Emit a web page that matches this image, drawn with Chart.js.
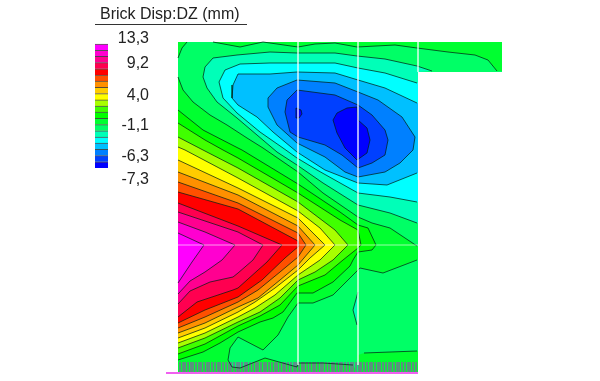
<!DOCTYPE html>
<html>
<head>
<meta charset="utf-8">
<title>Brick Disp:DZ</title>
<script src="https://cdn.jsdelivr.net/npm/chart.js@4/dist/chart.umd.min.js"></script>
<style>
  html, body { margin: 0; padding: 0; background: #fff; }
  body { width: 600px; height: 381px; position: relative; overflow: hidden; font-family: "Liberation Sans", Arial, sans-serif; }
  #plot { position: absolute; left: 0; top: 0; filter: blur(0.4px); }
  #scale { position: absolute; left: 95px; top: 30px; }
  #title { position: absolute; left: 100px; top: 4px; font-size: 16px; line-height: 20px; color: #222; white-space: nowrap; }
  #rule { position: absolute; left: 95px; top: 24px; width: 152px; height: 1px; background: #333; }
</style>
</head>
<body>
<canvas id="plot" width="600" height="381"></canvas>
<canvas id="scale" width="54" height="160"></canvas>
<div id="title">Brick Disp:DZ (mm)</div>
<div id="rule"></div>
<script>
// band colours, lowest displacement first
const bandColors = ["#0000ff", "#0040ff", "#0080ff", "#00c0ff", "#00ffff", "#00ffb8", "#00ff66", "#00ff30", "#00ff00", "#40ff00",
  "#a8ff00", "#ffff00", "#ffcc00", "#ff9000", "#ff5000", "#ff0000", "#ff0050", "#ff0090", "#ff00d0", "#ff00ff"];
const tickLabels = ["13,3", "9,2", "4,0", "-1,1", "-6,3", "-7,3"];
const tickSlots = [20.8, 16.8, 11.6, 6.8, 1.77, -1.94];

// outline of the brick wall
const outline = [[178,42],[502,42],[502,72],[418,72],[418,373],[178,373]];

// contour lines, cA_B separates band A from band B
const c0_1 = [[333,120],[337,113],[347,108],[357,107],[358,120],[367,128],[370,140],[367,153],[357,160],[345,148],[337,133],[333,120]];
const c0_1dot = [[296,108],[301,110],[302,114],[299,118],[296,118],[296,108]];
const c1_2 = [[358,105],[372,115],[385,130],[388,140],[385,155],[372,163],[358,168],[342,155],[325,145],[298,137],[290,132],[285,112],[287,100],[297,90],[335,95],[358,105]];
const c2_3 = [[358,92],[378,100],[402,117],[415,137],[413,150],[400,163],[385,172],[358,177],[345,172],[325,157],[297,143],[277,125],[268,107],[268,98],[277,88],[297,80],[335,83],[358,92]];
const c3_4 = [[417,103],[385,88],[358,80],[335,73],[297,72],[270,74],[238,74],[233,85],[232,98],[238,105],[257,117],[273,132],[297,152],[325,170],[358,183],[387,185],[417,173]];
const c4_5 = [[417,83],[385,73],[358,68],[335,63],[297,63],[270,63],[240,64],[225,70],[219,82],[223,98],[237,113],[260,132],[283,148],[297,158],[317,170],[358,193],[390,197],[417,202]];
const c5_6 = [[432,71],[417,66],[385,59],[357,56],[335,53],[297,53],[270,52],[237,55],[213,58],[205,67],[203,77],[207,88],[217,102],[237,118],[257,135],[277,152],[297,165],[323,183],[358,205],[390,213],[417,223]];
const c5_6lens = [[358,292],[353,310],[357,325]];
const c6_7a = [[178,77],[183,90],[193,102],[210,115],[227,125],[247,138],[263,148],[298,172],[323,193],[358,217],[372,223],[390,228],[417,246]];
const c6_7b = [[417,260],[383,273],[360,268],[333,295],[313,303],[298,303],[288,317],[278,335],[263,350],[238,337],[230,348],[228,360],[232,367],[240,368],[265,358],[297,367],[298,363],[323,363],[353,365]];
const c6_7corner = [[187,42],[182,48],[178,58]];
const c6_7top = [[213,42],[240,47],[263,42],[298,47],[315,44],[335,43],[357,47],[395,45],[417,48],[448,52],[475,55],[488,60],[497,71]];
const c6_7foot = [[364,353],[417,351]];
const c7_8 = [[178,110],[203,130],[238,148],[242,150],[298,184],[340,212],[358,225],[368,228],[376,245],[372,250],[358,252],[353,260],[350,266],[333,282],[313,293],[297,293],[283,312],[273,318],[260,322],[238,332],[220,343],[203,352],[178,360]];
const c8_9 = [[178,123],[205,140],[223,150],[238,158],[298,193],[340,220],[358,230],[361,245],[358,248],[343,260],[325,275],[298,286],[280,305],[260,316],[238,326],[205,344],[178,354]];
const c9_10 = [[178,137],[203,150],[238,168],[298,202],[335,230],[348,245],[333,260],[315,272],[298,280],[280,298],[260,312],[238,322],[205,338],[178,348]];
const c10_11 = [[178,147],[185,150],[238,178],[298,211],[320,228],[335,245],[320,260],[298,275],[275,295],[255,308],[238,317],[205,333],[178,343]];
const c11_12 = [[178,160],[238,188],[298,218],[325,245],[310,258],[298,270],[275,288],[255,302],[238,312],[205,328],[178,338]];
const c12_13 = [[178,172],[238,195],[298,226],[315,245],[298,265],[280,280],[258,298],[238,307],[205,323],[178,333]];
const c13_14 = [[178,182],[238,203],[298,233],[306,245],[298,257],[280,272],[258,290],[238,302],[205,317],[178,328]];
const c14_15 = [[178,192],[238,209],[298,241],[299,246],[285,258],[262,280],[238,297],[205,310],[178,323]];
const c15_16 = [[178,203],[238,226],[282,245],[267,262],[238,288],[233,290],[197,302],[178,317]];
const c16_17 = [[178,212],[238,232],[263,245],[253,260],[238,273],[233,277],[210,282],[190,291],[178,304]];
const c17_18 = [[178,222],[205,232],[235,245],[222,260],[205,272],[190,281],[178,294]];
const c18_19 = [[178,233],[204,245],[192,262],[178,283]];

// mesh lines and the supports along the foot of the wall
const meshLines = [[[298,42],[298,365]], [[358,42],[358,365]], [[418,42],[418,72]], [[178,245],[418,245]]];
const baseLine = [[166,373],[418,373]];
const supportX = [180,183,185,188,191,193,196,199,201,204,207,209,212,215,218,220,223,226,229,231,234,237,239,242,245,247,250,253,
  256,258,261,264,266,269,272,275,277,280,283,285,288,291,294,296,299,302,304,307,310,313,315,318,321,323,326,329,332,334,337,340,
  342,345,348,351,353,356,359,361,364,367,370,372,375,378,380,383,386,389,391,394,397,399,402,405,408,410,413,416];

const toPoints = (list) => list.map((p) => ({ x: p[0], y: p[1] }));

const datasets = [];

function addFill(points, band) {
  datasets.push({
    data: toPoints(points),
    showLine: true,
    fill: "shape",
    backgroundColor: bandColors[band],
    borderWidth: 0,
    borderColor: "transparent",
    pointRadius: 0
  });
}

function addLine(points, color, width) {
  datasets.push({
    data: toPoints(points),
    showLine: true,
    fill: false,
    borderColor: color,
    borderWidth: width,
    pointRadius: 0
  });
}

// green base, then higher and lower bands painted inwards
addFill(outline, 6);
addFill([...c6_7a, [418,246], [418,260], ...c6_7b, [358,373], [178,373]], 7);
addFill([...c6_7corner, [178,42]], 7);
addFill([...c6_7top, [502,71], [502,42]], 7);
addFill([...c6_7foot, [418,351], [418,373], [358,373], [358,355]], 7);
addFill(c7_8, 8);
addFill(c8_9, 9);
addFill(c9_10, 10);
addFill(c10_11, 11);
addFill(c11_12, 12);
addFill(c12_13, 13);
addFill(c13_14, 14);
addFill(c14_15, 15);
addFill(c15_16, 16);
addFill(c16_17, 17);
addFill(c17_18, 18);
addFill(c18_19, 19);
addFill([...c5_6, [418,223], [418,72]], 5);
addFill(c5_6lens, 5);
addFill([...c4_5, [418,202], [418,83]], 4);
addFill([...c3_4, [418,173], [418,103]], 3);
addFill(c2_3, 2);
addFill(c1_2, 1);
addFill(c0_1, 0);
addFill(c0_1dot, 0);

const supports = [];
supportX.forEach((x) => {
  supports.push({ x: x, y: 362 }, { x: x, y: 372 }, { x: x, y: null });
});
datasets.push({
  data: supports,
  showLine: true,
  fill: false,
  spanGaps: false,
  borderColor: "rgba(125,105,155,0.7)",
  borderWidth: 1,
  pointRadius: 0
});

[c0_1, c0_1dot, c1_2, c2_3, c3_4, c4_5, c5_6, c5_6lens, c6_7a, c6_7b, c6_7corner, c6_7top, c6_7foot, c7_8, c8_9, c9_10,
  c10_11, c11_12, c12_13, c13_14, c14_15, c15_16, c16_17, c17_18, c18_19].forEach((c) => {
  addLine(c, "rgba(0,30,20,0.72)", 1);
});

meshLines.forEach((m) => addLine(m, "rgba(255,255,255,0.6)", 1));
addLine(baseLine, "#f060f0", 2);

datasets.forEach((d, i) => {
  d.order = datasets.length - i;
});

new Chart(document.getElementById("plot"), {
  type: "scatter",
  data: { datasets: datasets },
  options: {
    responsive: false,
    animation: false,
    layout: { padding: 0 },
    plugins: { legend: { display: false }, tooltip: { enabled: false } },
    scales: {
      x: { type: "linear", min: 0, max: 600, display: false },
      y: { type: "linear", min: 0, max: 381, reverse: true, display: false }
    }
  }
});

// colour scale next to the plot
new Chart(document.getElementById("scale"), {
  type: "bar",
  data: {
    labels: ["DZ"],
    datasets: bandColors.map((color) => ({
      data: [1],
      backgroundColor: color,
      borderColor: "rgba(0,0,0,0.65)",
      borderWidth: { top: 1 },
      borderSkipped: false,
      barPercentage: 1,
      categoryPercentage: 1
    }))
  },
  options: {
    responsive: false,
    animation: false,
    layout: { padding: 0 },
    plugins: { legend: { display: false }, tooltip: { enabled: false } },
    scales: {
      x: { stacked: true, display: false },
      y: {
        stacked: true,
        position: "right",
        min: -3.55,
        max: 22.26,
        grid: { display: false },
        border: { display: false },
        afterBuildTicks: (axis) => {
          axis.ticks = tickSlots.map((v) => ({ value: v }));
        },
        afterFit: (axis) => {
          axis.width = 41;
          axis.paddingTop = 0;
          axis.paddingBottom = 0;
        },
        ticks: {
          autoSkip: false,
          padding: 0,
          crossAlign: "far",
          color: "#222",
          font: { family: "Liberation Sans", size: 16 },
          callback: (value, index) => tickLabels[index]
        }
      }
    }
  }
});
</script>
</body>
</html>
